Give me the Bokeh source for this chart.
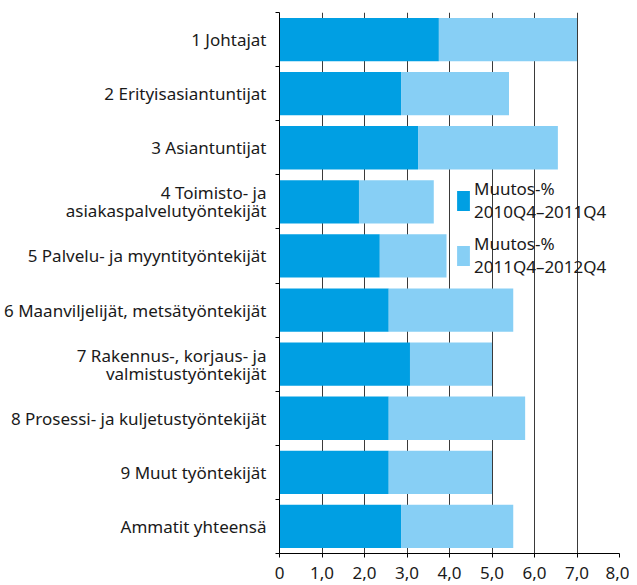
from bokeh.plotting import figure
from bokeh.models import Range1d, FixedTicker, Legend, LegendItem, ColumnDataSource
from bokeh.embed import file_html
from bokeh.resources import INLINE

categories = [
    "1 Johtajat",
    "2 Erityisasiantuntijat",
    "3 Asiantuntijat",
    "4 Toimisto- ja\nasiakaspalvelutyöntekijät",
    "5 Palvelu- ja myyntityöntekijät",
    "6 Maanviljelijät, metsätyöntekijät",
    "7 Rakennus-, korjaus- ja\nvalmistustyöntekijät",
    "8 Prosessi- ja kuljetustyöntekijät",
    "9 Muut työntekijät",
    "Ammatit yhteensä",
]
change_2011 = [3.75, 2.86, 3.26, 1.87, 2.36, 2.57, 3.07, 2.57, 2.57, 2.86]
change_2012 = [3.25, 2.54, 3.29, 1.76, 1.57, 2.93, 1.93, 3.21, 2.43, 2.64]
series_labels = ["Muutos-%\n2010Q4–2011Q4", "Muutos-%\n2011Q4–2012Q4"]
x_ticks = [0, 1, 2, 3, 4, 5, 6, 7, 8]
x_tick_labels = ["0", "1,0", "2,0", "3,0", "4,0", "5,0", "6,0", "7,0", "8,0"]

DARK = "#009FE3"
LIGHT = "#87CFF5"
FONT = "Noto Sans"
TEXT = "#1a1a1a"
FS = "17px"

n = len(categories)
ys = [n - i - 0.5 for i in range(n)]
ends = [a + b for a, b in zip(change_2011, change_2012)]
src = ColumnDataSource(dict(y=ys, a=change_2011, end=ends, zero=[0] * n))

p = figure(width=629, height=584, output_backend="svg", toolbar_location=None,
           x_range=Range1d(0, 8), y_range=Range1d(0, n),
           min_border_left=279, min_border_right=10, min_border_top=12,
           min_border_bottom=31)
p.outline_line_color = None
p.background_fill_color = "white"

r1 = p.hbar(y="y", left="zero", right="a", height=0.8, source=src,
            fill_color=DARK, line_color=None)
r2 = p.hbar(y="y", left="a", right="end", height=0.8, source=src,
            fill_color=LIGHT, line_color=None)

# x axis
xa = p.xaxis[0]
xa.ticker = FixedTicker(ticks=x_ticks)
xa.major_label_overrides = {t: l for t, l in zip(x_ticks, x_tick_labels)}
xa.axis_line_color = "black"
xa.major_tick_line_color = "black"
xa.major_tick_out = 4
xa.major_tick_in = 0
xa.minor_tick_line_color = None
xa.major_label_standoff = 9
xa.major_label_text_font = FONT
xa.major_label_text_font_size = FS
xa.major_label_text_color = TEXT

# y axis
ya = p.yaxis[0]
ya.ticker = FixedTicker(ticks=ys, minor_ticks=list(range(n + 1)))
ya.major_label_overrides = {y: c for y, c in zip(ys, categories)}
ya.axis_line_color = "black"
ya.major_tick_line_color = None
ya.major_tick_out = 0
ya.major_tick_in = 0
ya.minor_tick_line_color = "black"
ya.minor_tick_out = 4
ya.minor_tick_in = 0
ya.major_label_standoff = 9
ya.major_label_text_font = FONT
ya.major_label_text_font_size = FS
ya.major_label_text_color = TEXT
ya.major_label_text_line_height = 0.78

# grid
p.xgrid.ticker = FixedTicker(ticks=x_ticks)
p.xgrid.grid_line_color = "#3a3a3a"
p.xgrid.grid_line_width = 1
p.ygrid.grid_line_color = None

legend = Legend(items=[LegendItem(label=series_labels[0], renderers=[r1]),
                       LegendItem(label=series_labels[1], renderers=[r2])],
                location=(176, 275), orientation="vertical")
legend.glyph_width = 16
legend.glyph_height = 25
legend.label_standoff = 3
legend.spacing = 9
legend.padding = 0
legend.margin = 0
legend.border_line_color = None
legend.background_fill_alpha = 0
legend.label_text_font = FONT
legend.label_text_font_size = FS
legend.label_text_color = TEXT
legend.label_text_line_height = 0.78
p.add_layout(legend, "center")

open("out.html", "w").write(file_html(p, INLINE))
